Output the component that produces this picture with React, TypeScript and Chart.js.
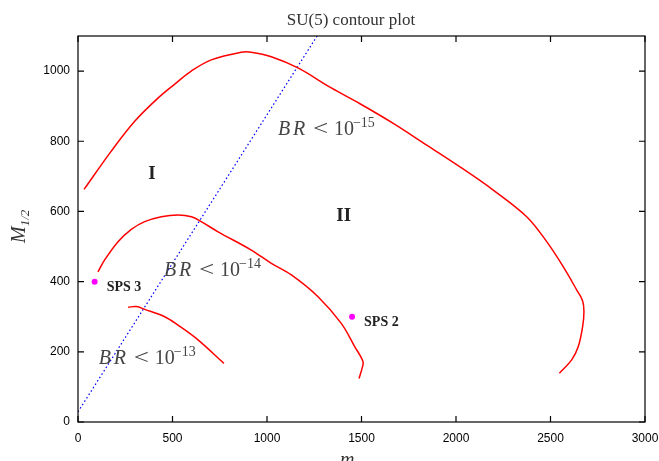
import React, { useEffect, useRef } from "react";
import { Chart, registerables } from "chart.js";

Chart.register(...registerables);

const xTicks = [0, 500, 1000, 1500, 2000, 2500, 3000];
const yTicks = [0, 200, 400, 600, 800, 1000];

const contour15 = [
  [32, 663], [176, 772], [300, 857], [423, 923], [512, 963], [599, 1000], [705, 1032],
  [864, 1054], [917, 1054], [1023, 1041], [1164, 1009], [1340, 952], [1492, 907],
  [1668, 851], [1845, 789], [2021, 727], [2197, 661], [2374, 585], [2480, 514],
  [2568, 442], [2639, 376], [2670, 345], [2677, 315], [2670, 272], [2647, 215],
  [2612, 177], [2547, 139],
];
const contour14 = [
  [106, 428], [141, 462], [212, 514], [282, 549], [353, 571], [441, 585], [529, 590],
  [600, 585], [652, 571], [741, 542], [917, 490], [1023, 452], [1129, 419], [1270, 357],
  [1393, 281], [1464, 215], [1508, 172], [1503, 153], [1487, 124],
];
const contour13 = [
  [265, 327], [309, 329], [353, 321], [459, 300], [529, 276], [635, 234], [772, 167],
];
const boundaryLine = [[0, 29], [1265, 1100]];
const spsPoints = [
  { name: "SPS 3", m0: 88, m12: 400 },
  { name: "SPS 2", m0: 1450, m12: 300 },
];
// annotation anchors in data coordinates
const brLabels = [
  { exp: "−15", x: 1058, y: 818 },
  { exp: "−14", x: 455, y: 416 },
  { exp: "−13", x: 110, y: 165 },
];
const regionLabels = [
  { text: "I", x: 391, y: 706 },
  { text: "II", x: 1406, y: 587 },
];

const toXY = (arr: number[][]) => arr.map(([x, y]) => ({ x, y }));

const SERIF = "'Liberation Serif', 'DejaVu Serif', serif";
const SANS = "'Liberation Sans', Arial, sans-serif";

const decorPlugin = {
  id: "decor",
  afterDatasetsDraw(chart: any) {
    const { ctx, chartArea: a, scales } = chart;
    ctx.save();
    ctx.strokeStyle = "#000";
    ctx.lineWidth = 1.2;
    ctx.strokeRect(a.left, a.top, a.right - a.left, a.bottom - a.top);
    ctx.beginPath();
    const tl = 6;
    xTicks.forEach((v) => {
      const px = scales.x.getPixelForValue(v);
      ctx.moveTo(px, a.bottom);
      ctx.lineTo(px, a.bottom - tl);
      ctx.moveTo(px, a.top);
      ctx.lineTo(px, a.top + tl);
    });
    yTicks.forEach((v) => {
      const py = scales.y.getPixelForValue(v);
      ctx.moveTo(a.left, py);
      ctx.lineTo(a.left + tl, py);
      ctx.moveTo(a.right, py);
      ctx.lineTo(a.right - tl, py);
    });
    ctx.stroke();
    ctx.restore();
  },
  afterDraw(chart: any) {
    const { ctx, chartArea: a, scales } = chart;
    const X = (v: number) => scales.x.getPixelForValue(v);
    const Y = (v: number) => scales.y.getPixelForValue(v);
    ctx.save();
    // title
    ctx.fillStyle = "#333";
    ctx.font = `17px ${SERIF}`;
    ctx.textAlign = "center";
    ctx.textBaseline = "alphabetic";
    ctx.fillText("SU(5) contour plot", 351, 25);

    // BR labels
    ctx.textAlign = "left";
    brLabels.forEach((l) => {
      const x0 = X(l.x);
      const y0 = Y(l.y);
      ctx.fillStyle = "#444";
      ctx.font = `italic 20px ${SERIF}`;
      ctx.fillText("B", x0, y0);
      ctx.fillText("R", x0 + 15, y0);
      ctx.font = `20px ${SERIF}`;
      ctx.save();
      ctx.translate(x0 + 35, y0);
      ctx.scale(1.35, 1);
      ctx.fillText("<", 0, 0);
      ctx.restore();
      ctx.fillText("10", x0 + 56, y0);
      ctx.font = `14px ${SERIF}`;
      ctx.fillText(l.exp, x0 + 75, y0 - 8);
    });

    // region labels
    ctx.fillStyle = "#222";
    ctx.font = `bold 19px ${SERIF}`;
    ctx.textAlign = "center";
    ctx.textBaseline = "middle";
    regionLabels.forEach((l) => ctx.fillText(l.text, X(l.x), Y(l.y)));

    // SPS labels
    ctx.font = `bold 14px ${SERIF}`;
    ctx.textAlign = "left";
    spsPoints.forEach((p) => {
      ctx.fillText(p.name, X(p.m0) + 12, Y(p.m12) + 6);
    });

    // y axis title
    ctx.fillStyle = "#333";
    ctx.save();
    ctx.translate(25, (a.top + a.bottom) / 2 + 14);
    ctx.rotate(-Math.PI / 2);
    ctx.textAlign = "left";
    ctx.textBaseline = "alphabetic";
    ctx.font = `italic 20px ${SERIF}`;
    ctx.fillText("M", 0, 0);
    const mw = ctx.measureText("M").width;
    ctx.font = `italic 13px ${SERIF}`;
    ctx.fillText("1/2", mw, 4);
    ctx.restore();

    // x axis title
    ctx.textAlign = "left";
    ctx.textBaseline = "alphabetic";
    ctx.font = `italic 20px ${SERIF}`;
    const cx = 340;
    ctx.fillText("m", cx, 466);
    const w = ctx.measureText("m").width;
    ctx.font = `13px ${SERIF}`;
    ctx.fillText("0", cx + w, 469);
    ctx.restore();
  },
};

export default function App() {
  const ref = useRef<HTMLCanvasElement | null>(null);
  useEffect(() => {
    document.body.style.margin = "0";
    if (!ref.current) return;
    const lineDs = (pts: number[][]) => ({
      data: toXY(pts),
      showLine: true,
      borderColor: "#ff0000",
      borderWidth: 1.5,
      pointRadius: 0,
      tension: 0.35,
      fill: false,
    });
    const chart = new Chart(ref.current, {
      type: "scatter",
      data: {
        datasets: [
          lineDs(contour15),
          lineDs(contour14),
          lineDs(contour13),
          {
            data: toXY(boundaryLine),
            showLine: true,
            borderColor: "#0000ff",
            borderWidth: 1.2,
            borderDash: [1.5, 2.5],
            pointRadius: 0,
          },
          {
            data: spsPoints.map((p) => ({ x: p.m0, y: p.m12 })),
            showLine: false,
            pointRadius: 3,
            pointBackgroundColor: "#ff00ff",
            pointBorderColor: "#ff00ff",
            pointBorderWidth: 0,
          },
        ] as any,
      },
      options: {
        responsive: false,
        animation: false,
        events: [],
        layout: { padding: { top: 36, right: 14, left: 0, bottom: 0 } },
        plugins: { legend: { display: false }, tooltip: { enabled: false }, title: { display: false } },
        scales: {
          x: {
            type: "linear",
            min: 0,
            max: 3000,
            grid: { display: false, drawTicks: false },
            border: { display: false },
            afterBuildTicks: (s: any) => { s.ticks = xTicks.map((v) => ({ value: v })); },
            afterFit: (s: any) => { s.height = 39; s.paddingLeft = 0; s.paddingRight = 0; },
            ticks: {
              padding: 9, color: "#000", font: { family: SANS, size: 12 }, maxRotation: 0, autoSkip: false,
              callback: (v: any) => String(v),
            },
          },
          y: {
            type: "linear",
            min: 0,
            max: 1100,
            grid: { display: false, drawTicks: false },
            border: { display: false },
            afterBuildTicks: (s: any) => { s.ticks = yTicks.map((v) => ({ value: v })); },
            afterFit: (s: any) => { s.width = 78; s.paddingTop = 0; s.paddingBottom = 0; },
            ticks: {
              padding: 8, color: "#000", font: { family: SANS, size: 12 }, autoSkip: false,
              callback: (v: any) => String(v),
            },
          },
        },
      },
      plugins: [decorPlugin],
    } as any);
    return () => chart.destroy();
  }, []);
  return (
    <div style={{ width: 659, height: 461 }}>
      <canvas ref={ref} width={659} height={461} style={{ display: "block" }} />
    </div>
  );
}
